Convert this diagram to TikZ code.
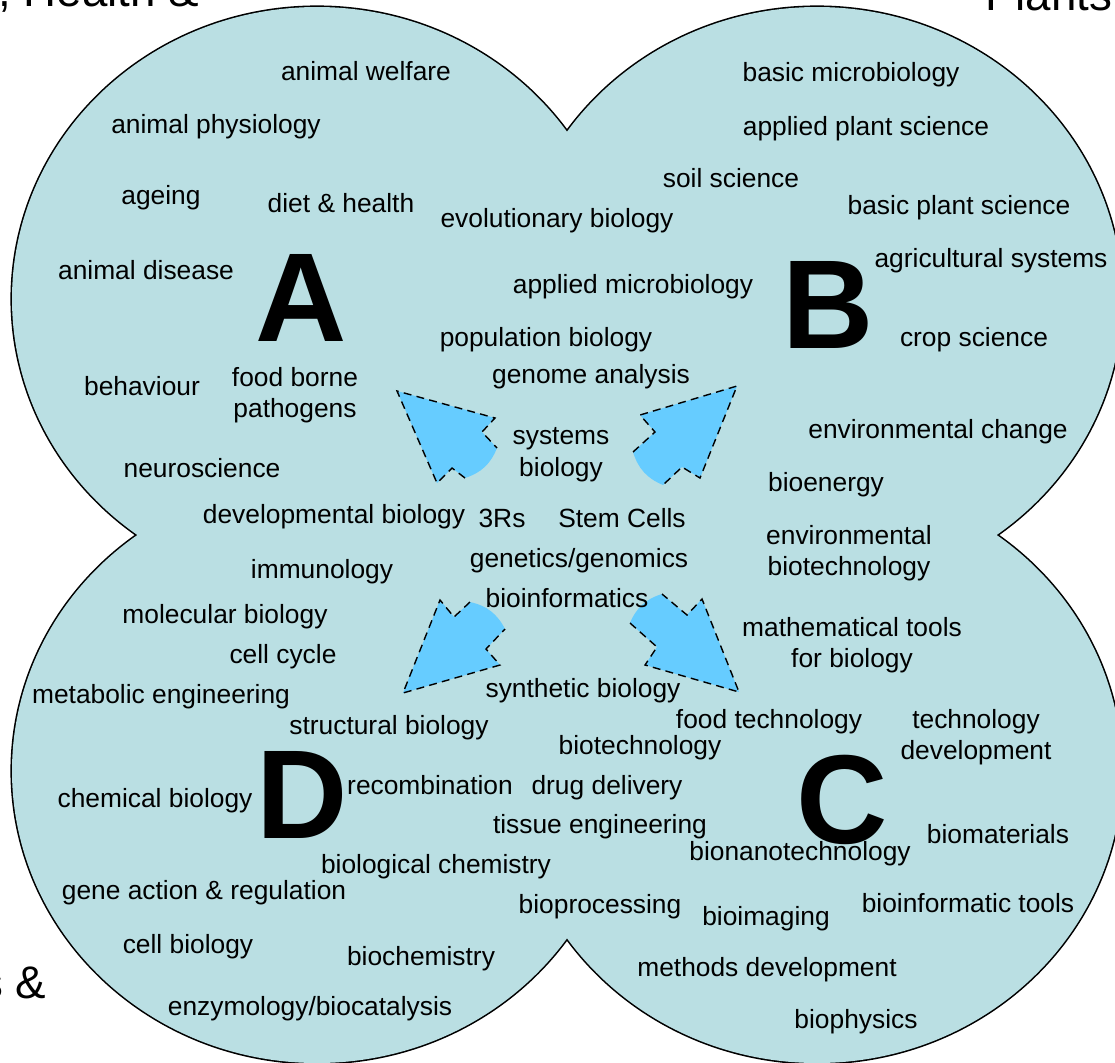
\documentclass[tikz,border=0pt]{standalone}
\usepackage{fontspec}
\setmainfont{Liberation Sans}
\definecolor{lobefill}{RGB}{186,223,227}
\definecolor{arrowfill}{RGB}{102,204,255}
\tikzset{
  topic/.style={font=\fontsize{15}{18}\selectfont, inner sep=0pt, text height=11pt, text depth=3pt},
  topictwo/.style={font=\fontsize{15}{18}\selectfont, inner sep=0pt, align=center},
  bigletter/.style={font=\fontsize{72}{72}\selectfont\bfseries, inner sep=0pt},
  cutlabel/.style={font=\fontsize{26}{30}\selectfont, inner sep=0pt},
  flow/.style={fill=arrowfill},
  flowedge/.style={dash pattern=on 4.5pt off 3pt, line width=0.8pt}
}
\begin{document}
\begin{tikzpicture}[x=0.02cm, y=-0.02cm]
	\clip (0,0) rectangle (1115,1062);
	% the four lobes: thick outline first, fill on top keeps only the outer edge
	\foreach \cx/\cy in {317/299, 817/299, 317/771, 817/771}
		\draw[line width=1.8pt] (\cx,\cy) ellipse [x radius=305, y radius=292];
	\foreach \cx/\cy in {317/299, 817/299, 317/771, 817/771}
		\fill[lobefill] (\cx,\cy) ellipse [x radius=305, y radius=292];
	\fill[lobefill] (317,299) rectangle (817,771);
	
	% arrows out of the middle
	\fill[flow] (465,478) -- (452,468) -- (437,483) -- (397,391) -- (495,418) -- (482,432) -- (497,448) to[bend left=25] (465,478) -- cycle;
	\draw[flowedge] (465,478) -- (452,468) -- (437,483) -- (397,391) -- (495,418) -- (482,432) -- (497,448);
	\fill[flow] (633,452) -- (655,432) -- (640,415) -- (737,386) -- (700,478) -- (682,467) -- (663,485) to[bend left=25] (633,452) -- cycle;
	\draw[flowedge] (633,452) -- (655,432) -- (640,415) -- (737,386) -- (700,478) -- (682,467) -- (663,485);
	\fill[flow] (470,602) -- (454,617) -- (440,600) -- (403,693) -- (500,665) -- (486,649) -- (505,629) to[bend right=25] (470,602) -- cycle;
	\draw[flowedge] (470,602) -- (454,617) -- (440,600) -- (403,693) -- (500,665) -- (486,649) -- (505,629);
	\fill[flow] (630,623) -- (657,647) -- (645,665) -- (739,692) -- (702,599) -- (687,615) -- (662,594) to[bend right=25] (630,623) -- cycle;
	\draw[flowedge] (630,623) -- (657,647) -- (645,665) -- (739,692) -- (702,599) -- (687,615) -- (662,594);
	
	% cut-off headings
	\node[cutlabel, anchor=base west] (health) at (-2,6) {, Health \&};
	\node[cutlabel, anchor=base west] (plants) at (985,10) {Plants};
	\node[cutlabel, anchor=base west] (tail) at (-20,998) {s \&};
	
	% A
	\node[bigletter] (A) at (301,298) {A};
	\node[topic] (welfare) at (366,73) {animal welfare};
	\node[topic] (physiology) at (216,126) {animal physiology};
	\node[topic] (ageing) at (161,197) {ageing};
	\node[topic] (diet) at (341,205) {diet \& health};
	\node[topic] (evolution) at (557,220) {evolutionary biology};
	\node[topic] (disease) at (146,272) {animal disease};
	\node[topic] (behaviour) at (142,388) {behaviour};
	\node[topictwo] (pathogens) at (295,395) {food borne\\pathogens};
	\node[topic] (neuro) at (202,470) {neuroscience};
	\node[topic] (devbio) at (334,516) {developmental biology};
	
	% B
	\node[bigletter] (B) at (828,305) {B};
	\node[topic] (basicmicro) at (851,74) {basic microbiology};
	\node[topic] (appliedplant) at (866,128) {applied plant science};
	\node[topic] (soil) at (731,180) {soil science};
	\node[topic] (basicplant) at (959,207) {basic plant science};
	\node[topic] (agri) at (991,260) {agricultural systems};
	\node[topic] (appliedmicro) at (633,286) {applied microbiology};
	\node[topic] (crop) at (974,339) {crop science};
	\node[topic] (population) at (546,339) {population biology};
	\node[topic] (genome) at (591,376) {genome analysis};
	\node[topic] (envchange) at (938,431) {environmental change};
	\node[topic] (bioenergy) at (826,484) {bioenergy};
	\node[topictwo] (envbiotech) at (849,553) {environmental\\biotechnology};
	
	% middle
	\node[topictwo] (systems) at (561,455) {systems\\biology};
	\node[topic] (threeRs) at (502,520) {3Rs};
	\node[topic] (stemcells) at (622,520) {Stem Cells};
	\node[topic] (genetics) at (579,560) {genetics/genomics};
	\node[topic] (bioinf) at (567,600) {bioinformatics};
	\node[topic] (synthetic) at (583,690) {synthetic biology};
	
	% D
	\node[bigletter] (D) at (302,795) {D};
	\node[topic] (immuno) at (322,571) {immunology};
	\node[topic] (molbio) at (225,616) {molecular biology};
	\node[topic] (cellcycle) at (283,656) {cell cycle};
	\node[topic] (metabolic) at (161,696) {metabolic engineering};
	\node[topic] (structural) at (389,727) {structural biology};
	\node[topic] (recomb) at (430,787) {recombination};
	\node[topic] (chembio) at (155,800) {chemical biology};
	\node[topic] (biolchem) at (436,866) {biological chemistry};
	\node[topic] (geneaction) at (204,892) {gene action \& regulation};
	\node[topic] (cellbio) at (188,946) {cell biology};
	\node[topic] (biochem) at (421,958) {biochemistry};
	\node[topic] (enzymology) at (310,1008) {enzymology/biocatalysis};
	
	% C
	\node[bigletter] (C) at (842,800) {C};
	\node[topictwo] (mathtools) at (852,645) {mathematical tools\\for biology};
	\node[topic] (foodtech) at (769,721) {food technology};
	\node[topictwo] (techdev) at (976,737) {technology\\development};
	\node[topic] (biotech) at (640,747) {biotechnology};
	\node[topic] (drug) at (607,787) {drug delivery};
	\node[topic] (tissue) at (600,826) {tissue engineering};
	\node[topic] (biomat) at (998,836) {biomaterials};
	\node[topic] (bionano) at (800,853) {bionanotechnology};
	\node[topic] (bioproc) at (600,906) {bioprocessing};
	\node[topic] (bioimg) at (766,918) {bioimaging};
	\node[topic] (bioinftools) at (968,905) {bioinformatic tools};
	\node[topic] (methods) at (767,969) {methods development};
	\node[topic] (biophys) at (856,1021) {biophysics};
\end{tikzpicture}
\end{document}
